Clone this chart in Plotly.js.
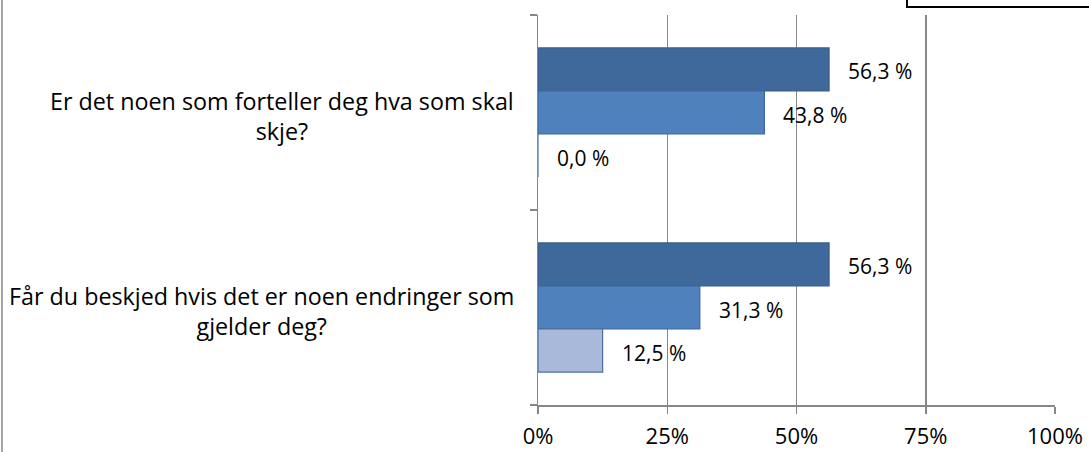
<!DOCTYPE html>
<html>
<head>
<meta charset="utf-8">
<script src="https://cdn.plot.ly/plotly-3.0.1.min.js"></script>
<style>html,body{margin:0;padding:0;background:#fff;}#chart{width:1089px;height:452px;}</style>
</head>
<body>
<div id="chart"></div>
<script>
const categories = ["Er det noen som forteller deg hva som skal<br>skje?", "Får du beskjed hvis det er noen endringer som<br>gjelder deg?"];
const seriesA = [56.3, 56.3];
const seriesB = [43.8, 31.3];
const seriesC = [0.0, 12.5];
const tickValues = [0, 25, 50, 75, 100];
const tickLabels = ["0%", "25%", "50%", "75%", "100%"];

const series = [
  {vals: seriesA, fill: "#40699B", line: "#385D8A"},
  {vals: seriesB, fill: "#4F81BD", line: "#3C6A9E"},
  {vals: seriesC, fill: "#A9B9D9", line: "#4A6E9E"}
];
const catIdx = categories.map((c, i) => i);
const bargap = 0.338;
const w = (1 - bargap) / series.length;
const FONT = "Open Sans, sans-serif";

const traces = series.map((s, k) => ({
  type: "bar", orientation: "h",
  x: s.vals, y: catIdx,
  marker: {color: s.fill, line: {color: s.line, width: 1.2}},
  hoverinfo: "skip", showlegend: false
}));

const annotations = [];
series.forEach((s, k) => {
  s.vals.forEach((v, i) => {
    annotations.push({
      x: v, y: i - (1 - bargap) / 2 + w * (k + 0.5),
      xref: "x", yref: "y",
      text: v.toFixed(1).replace(".", ",") + " %",
      showarrow: false, xanchor: "left", yanchor: "middle",
      xshift: 17, yshift: -2,
      font: {family: FONT, size: 21, color: "#000"}
    });
  });
});
categories.forEach((c, i) => {
  annotations.push({
    x: 0, y: i, xref: "paper", yref: "y",
    text: c, showarrow: false, xanchor: "right", yanchor: "middle",
    align: "center", xshift: -22, yshift: -3,
    font: {family: FONT, size: 23.3, color: "#000"}
  });
});

const layout = {
  width: 1089, height: 452,
  margin: {l: 538, r: 34, t: 15, b: 47},
  paper_bgcolor: "#fff", plot_bgcolor: "#fff",
  barmode: "group", bargap: bargap, bargroupgap: 0,
  font: {family: FONT, size: 22, color: "#000"},
  xaxis: {
    range: [0, 100], tickvals: tickValues, ticktext: tickLabels,
    showgrid: true, gridcolor: "#878787", gridwidth: 1.5,
    zeroline: false, showline: true, linecolor: "#878787", linewidth: 1.5,
    ticks: "outside", ticklen: 7, tickcolor: "#878787", tickwidth: 1.5,
    ticklabelstandoff: 4,
    tickfont: {family: FONT, size: 22, color: "#000"}
  },
  yaxis: {
    type: "linear", range: [1.5, -0.5],
    tickvals: [-0.5, 0.5, 1.5], ticktext: ["", "", ""],
    showgrid: false, zeroline: false, showline: true, linecolor: "#878787", linewidth: 1.5,
    ticks: "outside", ticklen: 7, tickcolor: "#878787", tickwidth: 1.5
  },
  annotations: annotations,
  shapes: [
    {type: "rect", xref: "paper", yref: "paper", x0: 0.7137, x1: 1.2, y0: 1.0205, y1: 1.2,
     line: {color: "#000", width: 2}, fillcolor: "rgba(0,0,0,0)"},
    {type: "line", xref: "paper", yref: "paper", x0: -1.0368, x1: -1.0368, y0: -0.2, y1: 1.1,
     line: {color: "#878787", width: 1.5}}
  ]
};

Plotly.newPlot("chart", traces, layout, {staticPlot: true, displayModeBar: false});
</script>
</body>
</html>
